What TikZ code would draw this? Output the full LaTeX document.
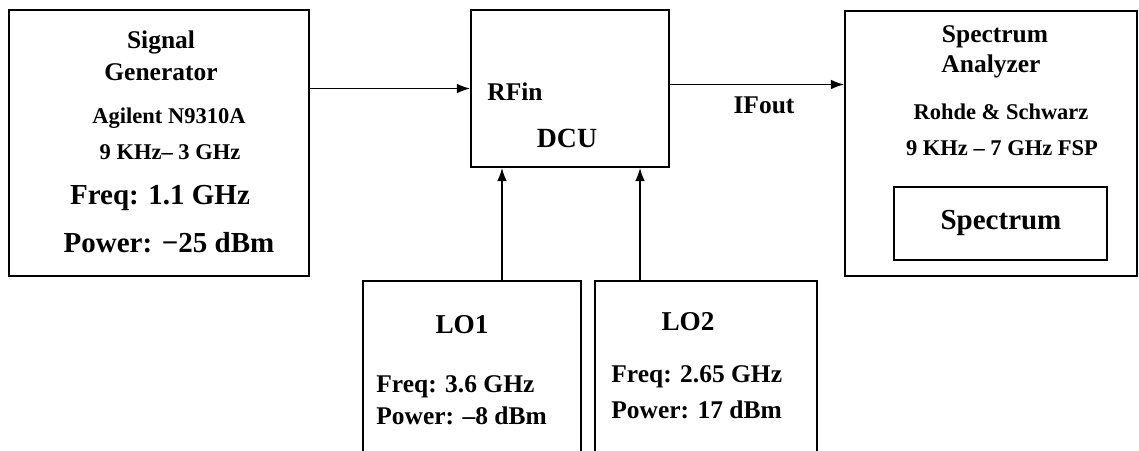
\documentclass[tikz,border=0pt]{standalone}
\usepackage{fontspec}
\setmainfont{Liberation Serif}
\usetikzlibrary{arrows.meta,positioning}

\begin{document}
\begin{tikzpicture}[
  x=0.02cm, y=-0.02cm,
  font=\bfseries,
  box/.style={draw,line width=1pt,inner sep=0pt},
  arr/.style={-{Latex[length=7.5pt,width=5.5pt]},line width=0.9pt},
  ttl/.style={font=\fontsize{14.5}{16}\selectfont\bfseries,inner sep=0pt},
  big/.style={font=\fontsize{16.5}{18}\selectfont\bfseries,inner sep=0pt},
  sml/.style={font=\fontsize{12.8}{14}\selectfont\bfseries,inner sep=0pt},
  lbl/.style={font=\fontsize{14.5}{16}\selectfont\bfseries,inner sep=0pt,anchor=west}
]
\clip (0,0) rectangle (1139,450);

% Instrument boxes
\node[box,minimum width=6cm,minimum height=5.32cm] (SG) at (159,143) {};
\node[box,minimum width=3.96cm,minimum height=3.14cm] (DCU) at (570,88.5) {};
\node[box,minimum width=5.84cm,minimum height=5.3cm] (SA) at (991,143.5) {};
\node[box,minimum width=4.26cm,minimum height=1.46cm] (SP) at (1000.5,223.5) {};
\node[box,minimum width=4.36cm,minimum height=3.78cm] (LO1) at (472,375.5) {};
\node[box,minimum width=4.44cm,minimum height=3.78cm] (LO2) at (706,375.5) {};

% Signal generator
\node[ttl] (sgA) at (161,42) {Signal};
\node[ttl] (sgB) at (161,72) {Generator};
\node[sml] (sgC) at (169,118) {Agilent N9310A};
\node[sml] (sgD) at (170,152) {9 KHz– 3 GHz};
\node[big] (sgE) at (160,198) {Freq: 1.1 GHz};
\node[big] (sgF) at (169,243) {Power: −25 dBm};

% Down converter
\node[ttl] (rfin) at (515,92) {RFin};
\node[ttl,font=\fontsize{15.8}{17}\selectfont\bfseries] (dcu) at (567,138) {DCU};
\node[ttl] (ifout) at (764,105) {IFout};

% Spectrum analyzer
\node[ttl] (saA) at (995,37) {Spectrum};
\node[ttl] (saB) at (991,66) {Analyzer};
\node[sml] (saC) at (1001,112) {Rohde \& Schwarz};
\node[sml] (saD) at (1002,148) {9 KHz – 7 GHz FSP};
\node[big] (spec) at (1001,223) {Spectrum};

% Local oscillators
\node[ttl,font=\fontsize{15.5}{17}\selectfont\bfseries] (loA) at (462,325) {LO1};
\node[lbl] (loB) at (376,387) {Freq: 3.6 GHz};
\node[lbl] (loC) at (376,416) {Power: –8 dBm};
\node[ttl,font=\fontsize{15.5}{17}\selectfont\bfseries] (loD) at (688,322) {LO2};
\node[lbl] (loE) at (611,377) {Freq: 2.65 GHz};
\node[lbl] (loF) at (611,410) {Power: 17 dBm};

% Connections
\draw[arr] (SG.east |- DCU.west) -- (DCU.west);
\draw[arr] ([yshift=0.08cm]DCU.east) -- ([yshift=0.08cm]DCU.east -| SA.west);
\draw[arr] ([xshift=0.6cm]LO1.north) -- ([xshift=0.6cm]LO1.north |- DCU.south);
\draw[arr] ([xshift=-1.32cm]LO2.north) -- ([xshift=-1.32cm]LO2.north |- DCU.south);

\end{tikzpicture}
\end{document}
